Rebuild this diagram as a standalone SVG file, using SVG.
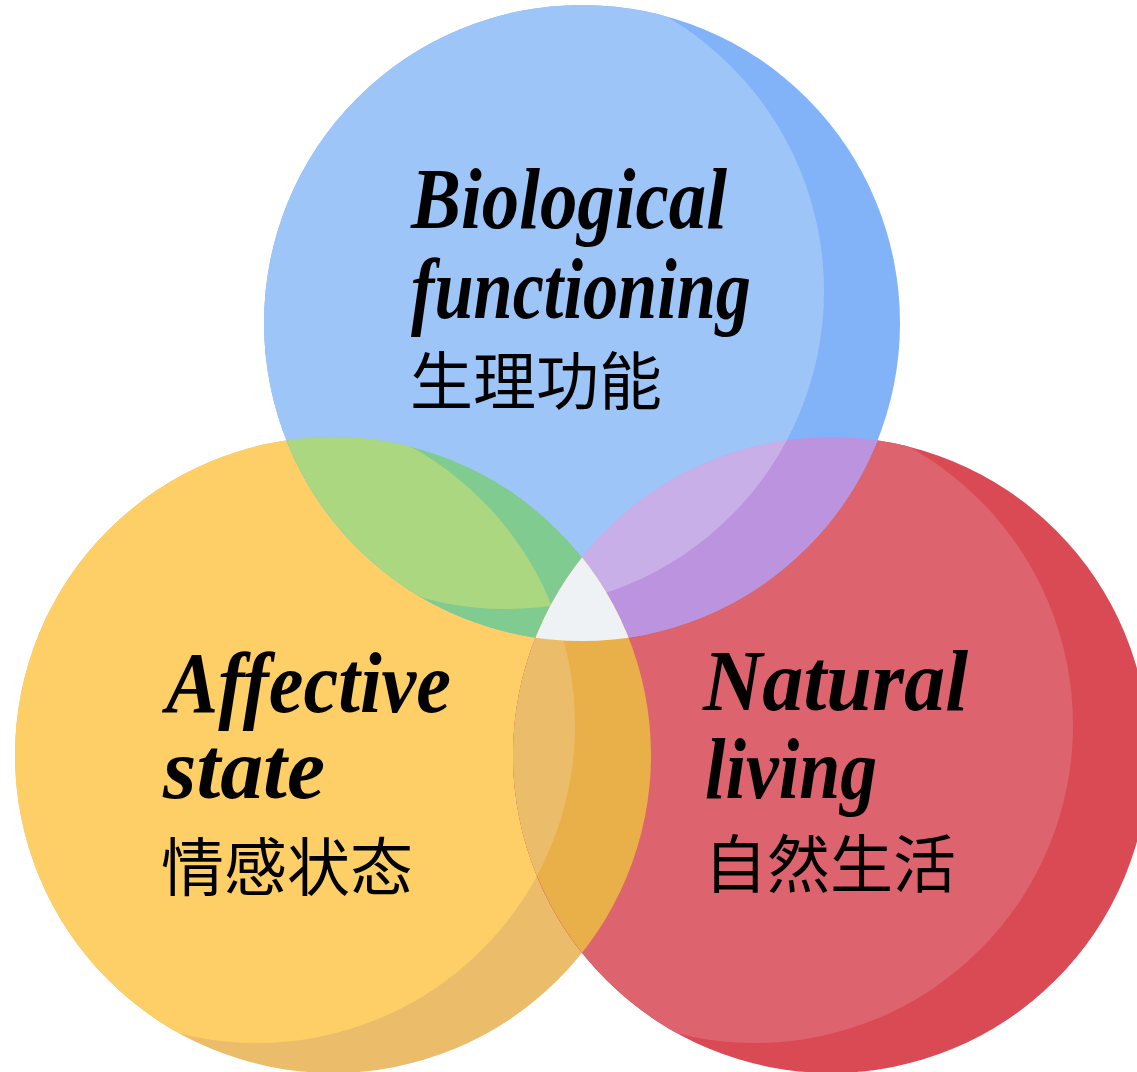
<svg xmlns="http://www.w3.org/2000/svg" width="1137" height="1072" viewBox="0 0 1137 1072">
<style>
.en{font-family:"Liberation Serif","DejaVu Serif",serif;font-weight:bold;font-style:italic;font-size:86px;fill:#000}
.zh{font-family:"Noto Sans CJK SC","Noto Sans",sans-serif;font-size:63px;fill:#000}
</style>
<defs>
<clipPath id="cB"><circle cx="582" cy="323" r="318"/></clipPath>
<clipPath id="cY"><circle cx="333" cy="755" r="318"/></clipPath>
<clipPath id="cR"><circle cx="831" cy="755" r="318"/></clipPath>
<clipPath id="hB"><circle cx="506" cy="291" r="318"/></clipPath>
<clipPath id="hY"><circle cx="257" cy="725" r="318"/></clipPath>
<clipPath id="hR"><circle cx="755" cy="725" r="318"/></clipPath>
</defs>
<rect width="1137" height="1072" fill="#fff"/>
<g id="node-affective">
<circle cx="333" cy="755" r="318" fill="#EBBD6B"/>
<circle cx="257" cy="725" r="318" fill="#FDCF66" clip-path="url(#cY)"/>
</g>
<g id="node-natural">
<circle cx="831" cy="755" r="318" fill="#D94A55"/>
<circle cx="755" cy="725" r="318" fill="#DD636E" clip-path="url(#cR)"/>
</g>
<g id="node-biological">
<circle cx="582" cy="323" r="318" fill="#82B3F8"/>
<circle cx="506" cy="291" r="318" fill="#9EC5F8" clip-path="url(#cB)"/>
</g>
<g id="overlap-bio-aff">
<g clip-path="url(#cB)"><circle cx="333" cy="755" r="318" fill="#80CB8F" clip-path="url(#cY)"/></g>
<g clip-path="url(#cB)"><g clip-path="url(#cY)"><g clip-path="url(#hB)"><circle cx="257" cy="725" r="318" fill="#AAD780"/></g></g></g>
</g>
<g id="overlap-bio-nat">
<g clip-path="url(#cB)"><circle cx="831" cy="755" r="318" fill="#BC93DF" clip-path="url(#cR)"/></g>
<g clip-path="url(#cB)"><g clip-path="url(#cR)"><g clip-path="url(#hB)"><circle cx="755" cy="725" r="318" fill="#C9AFE8"/></g></g></g>
</g>
<g id="overlap-aff-nat">
<g clip-path="url(#cY)"><circle cx="831" cy="755" r="318" fill="#E9AF49" clip-path="url(#cR)"/></g>
<g clip-path="url(#cY)"><g clip-path="url(#cR)"><g clip-path="url(#hY)"><circle cx="755" cy="725" r="318" fill="#EBBD6B"/></g></g></g>
</g>
<g id="overlap-center">
<g clip-path="url(#cB)"><g clip-path="url(#cY)"><circle cx="831" cy="755" r="318" fill="#EFF2F5" clip-path="url(#cR)"/></g></g>
</g>
<g id="connectors"/>
<g id="label-biological">
<text class="en" x="411" y="228" textLength="316" lengthAdjust="spacingAndGlyphs">Biological</text>
<text class="en" x="411" y="318" textLength="340" lengthAdjust="spacingAndGlyphs">functioning</text>
<text class="zh" x="410" y="404">生理功能</text>
</g>
<g id="label-affective">
<text class="en" x="166" y="712" textLength="285" lengthAdjust="spacingAndGlyphs">Affective</text>
<text class="en" x="163" y="798" textLength="162" lengthAdjust="spacingAndGlyphs">state</text>
<text class="zh" x="161" y="890">情感状态</text>
</g>
<g id="label-natural">
<text class="en" x="703" y="710" textLength="265" lengthAdjust="spacingAndGlyphs">Natural</text>
<text class="en" x="705" y="798" textLength="172" lengthAdjust="spacingAndGlyphs">living</text>
<text class="zh" x="704" y="887">自然生活</text>
</g>
</svg>
